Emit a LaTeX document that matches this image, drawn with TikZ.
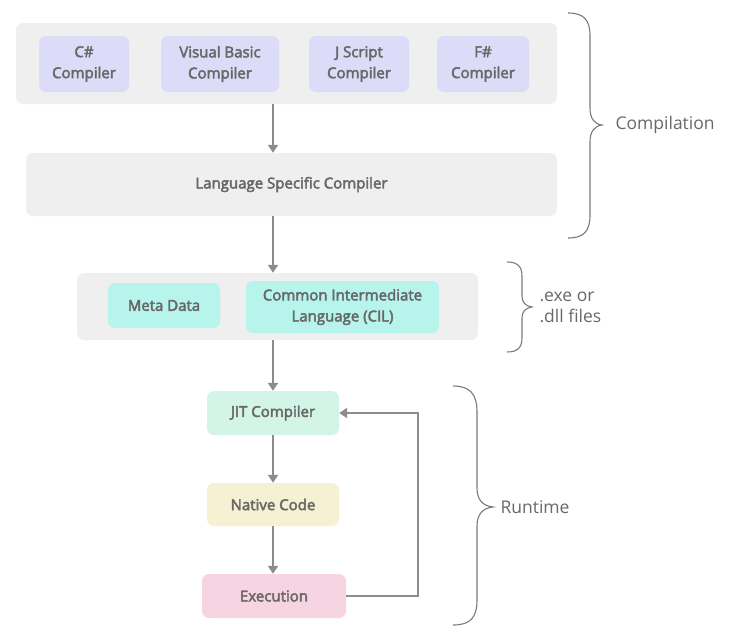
\documentclass[tikz,border=0pt]{standalone}
\usepackage{fontspec}
\setmainfont{Open Sans}
\newfontfamily\semib{Open Sans}[FakeBold=3]
\usetikzlibrary{arrows.meta}
\definecolor{panelgray}{HTML}{EFEFEF}
\definecolor{lav}{HTML}{DCDCF8}
\definecolor{teal}{HTML}{B6F4EC}
\definecolor{mint}{HTML}{D3F5E7}
\definecolor{cream}{HTML}{F6F1D2}
\definecolor{pinkish}{HTML}{F7D4E1}
\definecolor{txtgray}{HTML}{686868}
\definecolor{arrgray}{HTML}{8C8C8C}
\definecolor{bracegray}{HTML}{7A7A7A}
\tikzset{
  panel/.style={fill=panelgray, rounded corners=7pt, inner sep=0pt},
  box/.style={rounded corners=7pt, inner sep=0pt, align=center, text=txtgray,
    font=\semib\fontsize{15}{21}\selectfont},
  arr/.style={draw=arrgray, line width=2.6pt, -{Triangle[width=10pt,length=8pt]}},
  brc/.style={draw=bracegray, line width=1.1pt},
  blabel/.style={anchor=west, text=txtgray, font=\fontsize{17.5}{22}\selectfont, align=left}
}
\begin{document}
\begin{tikzpicture}[x=1pt,y=-1pt]
\useasboundingbox (0,0) rectangle (735,638);
% top panel
\node[panel, minimum width=541pt, minimum height=81pt] (top) at (286.5,63.5) {};
\node[box, fill=lav, minimum width=90pt, minimum height=56pt] (cs) at (84,64) {C\#\\Compiler};
\node[box, fill=lav, minimum width=118pt, minimum height=56pt] (vb) at (220,64) {Visual Basic\\Compiler};
\node[box, fill=lav, minimum width=100pt, minimum height=56pt] (js) at (359,64) {J Script\\Compiler};
\node[box, fill=lav, minimum width=92pt, minimum height=56pt] (fs) at (483,64) {F\#\\Compiler};
% language specific
\node[box, fill=panelgray, minimum width=531pt, minimum height=63pt] (lsc) at (291.5,184.5) {Language Specific Compiler};
% middle panel
\node[panel, minimum width=401pt, minimum height=67pt] (mid) at (277.5,306.5) {};
\node[box, fill=teal, minimum width=112pt, minimum height=45pt] (meta) at (164,305.5) {Meta Data};
\node[box, fill=teal, minimum width=193pt, minimum height=52pt] (cil) at (342.5,307) {Common Intermediate\\Language (CIL)};
% runtime
\node[box, fill=mint, minimum width=132pt, minimum height=44pt] (jit) at (273,413) {JIT Compiler};
\node[box, fill=cream, minimum width=132pt, minimum height=43pt] (nat) at (273,504.5) {Native Code};
\node[box, fill=pinkish, minimum width=144pt, minimum height=44pt] (exe) at (274,596) {Execution};
% arrows
\coordinate (ax) at (273,0);
\coordinate (fbx) at (418,0);
\draw[arr] (top.south -| ax) -- (lsc.north -| ax);
\draw[arr] (lsc.south -| ax) -- (mid.north -| ax);
\draw[arr] (mid.south -| ax) -- (jit.north -| ax);
\draw[arr] (jit.south -| ax) -- (nat.north -| ax);
\draw[arr] (nat.south -| ax) -- (exe.north -| ax);
\draw[arr] (exe.east) -- (exe.east -| fbx) |- (jit.east);
% braces
\draw[brc] (568,13) .. controls (584,13) and (590,20) .. (590,36)
  -- (590,108) .. controls (590,118) and (594,124) .. (602,125)
  .. controls (594,126) and (590,132) .. (590,142)
  -- (590,215) .. controls (590,231) and (584,238) .. (568,238);
\node[blabel] (lcomp) at (612,125) {Compilation};
\draw[brc] (507,262) .. controls (517,262) and (522,266) .. (522,276)
  -- (522,296) .. controls (522,302) and (525,306) .. (532,307)
  .. controls (525,308) and (522,312) .. (522,318)
  -- (522,338) .. controls (522,348) and (517,352) .. (507,352);
\node[blabel, font=\fontsize{17.5}{21}\selectfont] (lexe) at (536,307) {.exe or\\.dll files};
\draw[brc] (453,386) .. controls (470,386) and (477,394) .. (477,412)
  -- (477,488) .. controls (477,500) and (483,506) .. (493,507)
  .. controls (483,508) and (477,514) .. (477,526)
  -- (477,600) .. controls (477,618) and (470,625) .. (453,625);
\node[blabel] (lrun) at (497,507) {Runtime};
\end{tikzpicture}
\end{document}
